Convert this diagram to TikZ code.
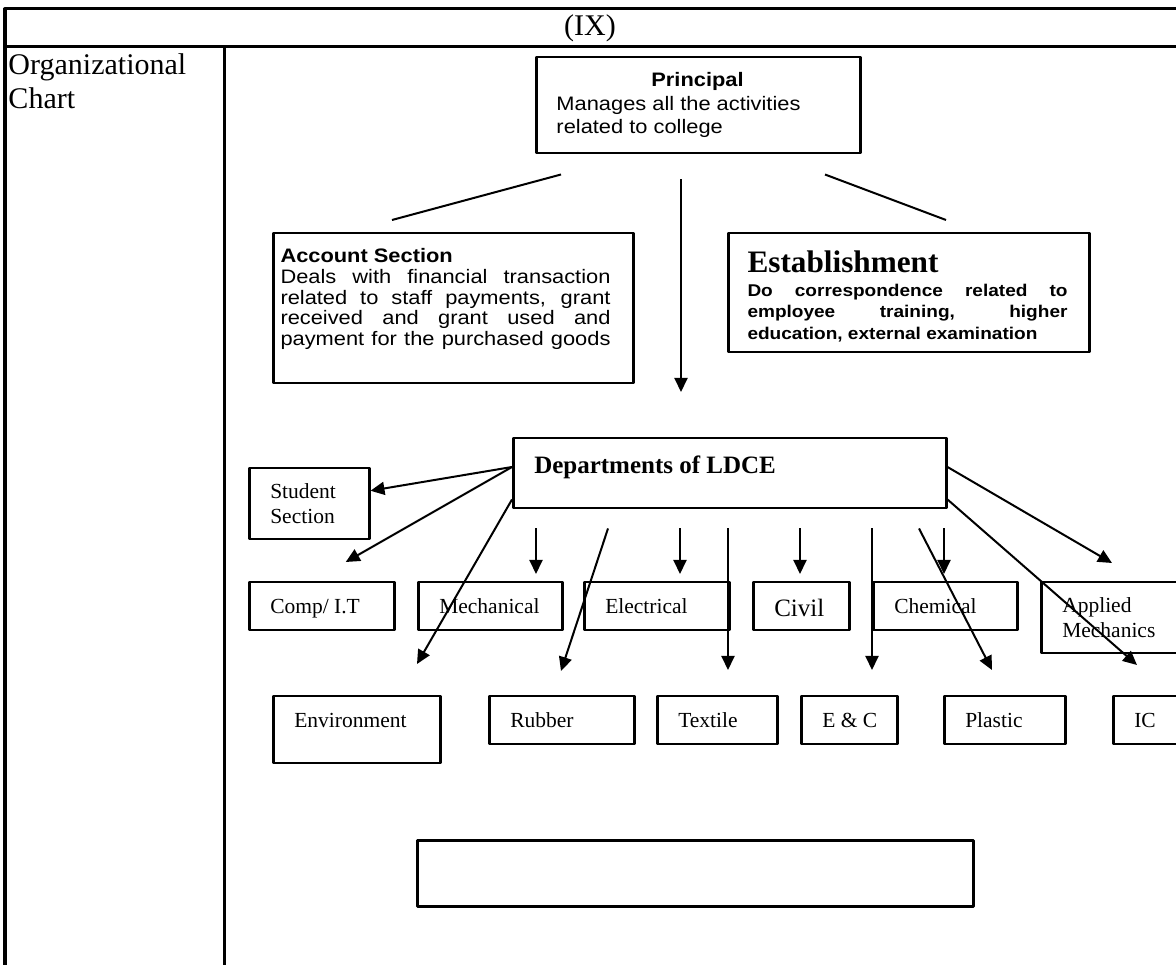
\documentclass[tikz,border=0pt]{standalone}
\usepackage{fontspec}
\setmainfont{Liberation Serif}
\newfontfamily\arialw[FakeStretch=1.12]{Liberation Sans}
\usetikzlibrary{arrows.meta,calc}
\newcommand{\natsp}{\spaceskip=0pt\relax}
\newcommand{\jline}[1]{\makebox[\hsize][s]{#1}}
\tikzset{
  frame/.style={draw, line width=1pt, anchor=north west, inner sep=0pt},
  deptbox/.style={draw, line width=1pt, anchor=north west, inner xsep=8.4pt, inner ysep=0pt,
    align=left, font=\fontsize{8.6}{10}\selectfont},
  oneline/.style={deptbox, text height=6.3pt, text depth=0.7pt},
  boxtext/.style={anchor=north west, inner sep=0pt, align=left},
  arr/.style={line width=0.8pt, -{Triangle[length=5.6pt,width=5.2pt]}},
  link/.style={line width=0.8pt},
  grid/.style={line width=1.2pt}
}
\begin{document}
\begin{tikzpicture}[x=0.4pt, y=-0.4pt, line join=round]
\useasboundingbox (0,0) rectangle (1176,965);
% table
\draw[grid] (5,965) -- (5,9) -- (1180,9);
\draw[grid] (5,47) -- (1180,47);
\draw[grid] (224,47) -- (224,965);
\node[font=\fontsize{12}{14}\selectfont] (hdr) at (590,28) {(IX)};
\node[anchor=north west, inner sep=0pt, align=left, font=\fontsize{12}{13.8}\selectfont] (orgl) at (8,53) {Organizational\\Chart};

% principal and sections
\node[frame, minimum width=129.6pt, minimum height=38.4pt] (prin) at (535,56) {};
\node[boxtext, text width=112.8pt, font=\fontsize{7.8}{9.4}\arialw] (printxt) at ([shift={(21,16)}]prin.north west)
  {\natsp\makebox[\hsize]{\bfseries Principal}\\Manages all the activities\\related to college};

\node[frame, minimum width=144pt, minimum height=60pt] (acc) at (272,232) {};
\node[boxtext, text width=132pt, font=\fontsize{7.8}{8.3}\arialw] (acctxt) at ([shift={(8,16)}]acc.north west)
  {\natsp{\bfseries Account Section}\\
   \jline{Deals with financial transaction}\\
   \jline{related to staff payments, grant}\\
   \jline{received and grant used and}\\
   \jline{payment for the purchased goods}};

\node[frame, minimum width=144.4pt, minimum height=47.6pt] (est) at (727,232) {};
\node[boxtext, text width=128pt, font=\fontsize{6.8}{8.6}\arialw\bfseries] (esttxt) at ([shift={(20,18)}]est.north west)
  {\natsp{\fontsize{12.5}{14}\rmfamily\bfseries Establishment}\\[1pt]
   \jline{Do correspondence related to}\\
   \jline{employee training, higher}\\
   education, external examination};

% departments
\node[deptbox, text width=156.4pt, minimum height=28pt, text height=7pt, text depth=7pt,
  font=\fontsize{10}{12}\selectfont\bfseries] (dep) at (512,437) {\natsp Departments of LDCE};

\draw[link] ($(prin.south west)+(26,20)$) -- ($(acc.north west)+(120,-12)$);
\draw[arr] ($(prin.south west)+(146,25)$) -- ($(dep.north west)+(169,-45)$);
\draw[link] ($(prin.south west)+(290,20)$) -- ($(est.north west)+(219,-12)$);

\node[deptbox, text width=31.2pt, minimum height=28.4pt] (stu) at (248,467) {Student\\Section};
\node[oneline, text width=41.2pt, minimum height=19.2pt] (comp) at (248,581) {\natsp Comp/ I.T};
\node[oneline, text width=40.8pt, minimum height=19.2pt] (mech) at (417,581) {Mechanical};
\node[oneline, text width=41.2pt, minimum height=19.2pt] (elec) at (583,581) {Electrical};
\node[oneline, text width=21.6pt, minimum height=19.2pt, text height=8.7pt,
  font=\fontsize{10}{12}\selectfont] (civ) at (752,581) {Civil};
\node[oneline, text width=40.8pt, minimum height=19.2pt] (chem) at (872,581) {Chemical};
\node[deptbox, text width=40.8pt, minimum height=28.4pt] (appl) at (1040,581) {Applied\\Mechanics};

\node[oneline, text width=50pt, minimum height=26.8pt, text depth=8.3pt] (env) at (272,695) {Environment};
\node[oneline, text width=41.2pt, minimum height=19.2pt] (rub) at (488,695) {Rubber};
\node[oneline, text width=31.2pt, minimum height=19.2pt] (tex) at (656,695) {Textile};
\node[oneline, text width=21.6pt, minimum height=19.2pt] (ec) at (800,695) {\mbox{\natsp E \& C}};
\node[oneline, text width=31.6pt, minimum height=19.2pt] (plas) at (943,695) {Plastic};
\node[oneline, text width=12pt, minimum height=19.2pt] (ic) at (1112,695) {IC};

\node[frame, line width=1.2pt, minimum width=222.4pt, minimum height=26.4pt] (blank) at (416,839) {};

\draw[arr] ($(dep.north west)+(0,30)$) -- ($(stu.east)+(0,-13)$);
\draw[arr] ($(dep.north west)+(0,30)$) -- ($(comp.north)+(24,-19)$);
\draw[arr] ($(dep.south west)+(0,-10)$) -- ($(env.north west)+(145,-31)$);
\draw[arr] ($(dep.south west)+(24,19)$) -- ($(mech.north west)+(119,-7)$);
\draw[arr] ($(dep.south west)+(96,19)$) -- ($(rub.north west)+(73,-24)$);
\draw[arr] ($(dep.south west)+(168,19)$) -- ($(elec.north west)+(97,-7)$);
\draw[arr] ($(dep.south west)+(216,19)$) -- ($(tex.north west)+(72,-25)$);
\draw[arr] ($(dep.south west)+(288,19)$) -- ($(civ.north west)+(48,-7)$);
\draw[arr] ($(dep.south west)+(360,19)$) -- ($(ec.north west)+(72,-25)$);
\draw[arr] ($(dep.south west)+(407,19)$) -- ($(plas.north west)+(49,-25)$);
\draw[arr] ($(dep.south west)+(432,19)$) -- ($(chem.north west)+(72,-7)$);
\draw[arr] ($(dep.north east)+(0,30)$) -- ($(appl.north west)+(72,-18)$);
\draw[arr] ($(dep.south east)+(0,-10)$) -- ($(ic.north west)+(25,-30)$);
\end{tikzpicture}
\end{document}
